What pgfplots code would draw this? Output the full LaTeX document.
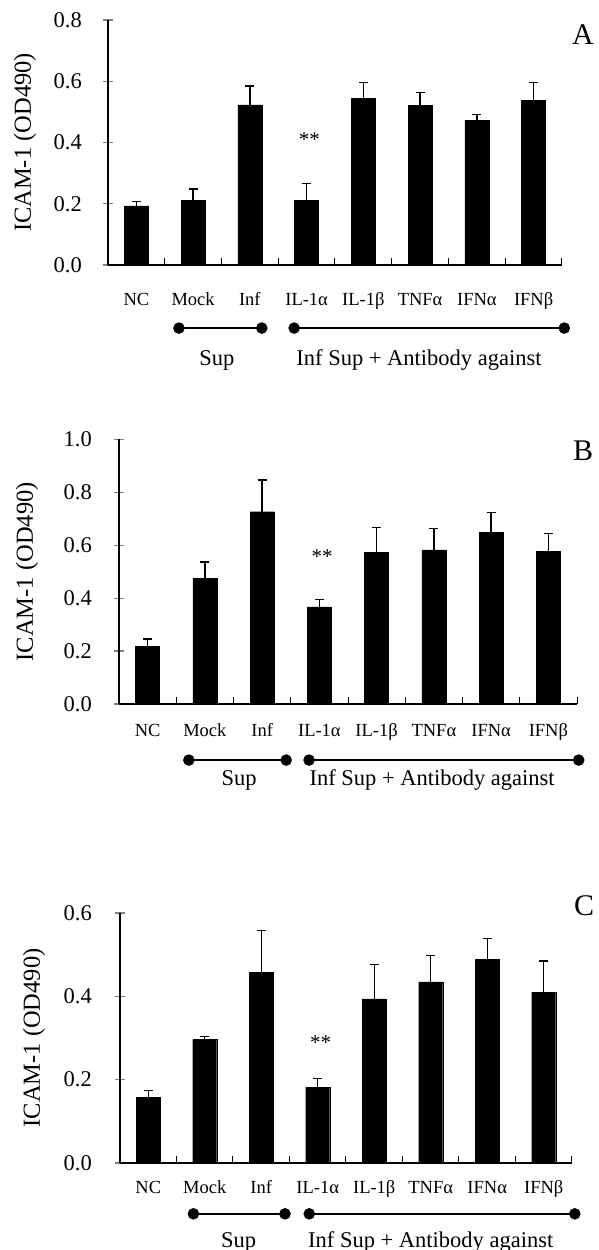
\documentclass[border=0pt]{standalone}
\usepackage{fontspec}
\setmainfont{Liberation Serif}
\usepackage{pgfplots}
\pgfplotsset{compat=1.18}
\pgfplotsset{
  panel/.style={
    scale only axis,
    axis lines*=left,
    axis line style={line width=1.3pt},
    clip=false,
    ymin=0,
    xmin=-0.5, xmax=7.5,
    xtick={0,...,7},
    xticklabels={NC,Mock,Inf,IL-1α,IL-1β,TNFα,IFNα,IFNβ},
    xtick style={draw=none},
    xticklabel style={font=\fontsize{18.5}{20}\selectfont, anchor=base, inner sep=0pt},
    tick align=center,
    major tick length=10pt,
    ytick style={line width=1.2pt},
    /pgf/number format/assume math mode=true,
    yticklabel style={font=\fontsize{22.5}{24}\selectfont, anchor=east, inner sep=0pt,
      /pgf/number format/fixed, /pgf/number format/fixed zerofill, /pgf/number format/precision=1},
    ylabel={ICAM-1 (OD490)},
  },
  bars/.style={ybar, bar width=24pt, fill=black, draw=black,
    error bars/.cd, y dir=plus, y explicit,
    error bar style={line width=1.3pt},
    error mark options={rotate=90, line width=1.3pt, mark size=4.5pt}},
  brk/.style={line width=1.5pt, mark=*, mark size=5pt, mark options={fill=black}},
}
\tikzset{
  txt/.style={font=\fontsize{22.5}{24}\selectfont, anchor=base},
  star/.style={font=\fontsize{21}{22}\selectfont},
  ylab/.style={at={(axis description cs:0,0.5)}, xshift=#1, rotate=90, anchor=center, font=\fontsize{24.5}{26}\selectfont},
}
\newcommand\bticks{%
\pgfplotsinvokeforeach{0.5,1.5,2.5,3.5,4.5,5.5,6.5,7.5}{
  \draw[line width=1pt] (axis cs:##1,0) -- ([yshift=7pt]axis cs:##1,0);
}}
\begin{document}
\begin{tikzpicture}
\useasboundingbox (0pt,0pt) rectangle (598pt,1250pt);

% ---------- Panel A ----------
\begin{axis}[panel, at={(108pt,985pt)}, anchor=south west, width=454pt, height=245pt,
  ymax=0.8, ytick={0,0.2,0.4,0.6,0.8},
  xticklabel style={yshift=-36pt},
  yticklabel style={xshift=-21pt},
  every axis y label/.style={ylab=-83pt}]
\addplot[bars] coordinates {
  (0,0.193) +- (0,0.014)
  (1,0.210) +- (0,0.038)
  (2,0.523) +- (0,0.061)
  (3,0.212) +- (0,0.053)
  (4,0.543) +- (0,0.052)
  (5,0.521) +- (0,0.043)
  (6,0.473) +- (0,0.019)
  (7,0.538) +- (0,0.058)
};
\addplot[brk] coordinates {(0.75,-0.206) (2.21,-0.206)};
\addplot[brk] coordinates {(2.78,-0.206) (7.54,-0.206)};
\bticks
\node[txt] at (axis cs:1.42,-0.327) {Sup};
\node[txt] at (axis cs:4.98,-0.327) {Inf Sup + Antibody against};
\node[star] at (axis cs:3.05,0.408) {**};
\end{axis}

% ---------- Panel B ----------
\begin{axis}[panel, at={(119pt,546pt)}, anchor=south west, width=458pt, height=264.5pt,
  ymax=1.0, ytick={0,0.2,0.4,0.6,0.8,1.0},
  xticklabel style={yshift=-28pt},
  yticklabel style={xshift=-22pt},
  every axis y label/.style={ylab=-92pt}]
\addplot[bars] coordinates {
  (0,0.217) +- (0,0.029)
  (1,0.475) +- (0,0.062)
  (2,0.727) +- (0,0.120)
  (3,0.367) +- (0,0.029)
  (4,0.574) +- (0,0.094)
  (5,0.583) +- (0,0.081)
  (6,0.648) +- (0,0.077)
  (7,0.577) +- (0,0.068)
};
\addplot[brk] coordinates {(0.72,-0.212) (2.42,-0.212)};
\addplot[brk] coordinates {(2.82,-0.212) (7.53,-0.212)};
\bticks
\node[txt] at (axis cs:1.6,-0.31) {Sup};
\node[txt] at (axis cs:4.97,-0.31) {Inf Sup + Antibody against};
\node[star] at (axis cs:3.05,0.556) {**};
\end{axis}

% ---------- Panel C ----------
\begin{axis}[panel, at={(120pt,87pt)}, anchor=south west, width=452pt, height=250pt,
  ymax=0.6, ytick={0,0.2,0.4,0.6},
  xticklabel style={yshift=-25pt},
  yticklabel style={xshift=-23pt},
  every axis y label/.style={ylab=-86pt}]
\addplot[bars] coordinates {
  (0,0.158) +- (0,0.016)
  (1,0.296) +- (0,0.008)
  (2,0.458) +- (0,0.100)
  (3,0.182) +- (0,0.021)
  (4,0.394) +- (0,0.082)
  (5,0.435) +- (0,0.063)
  (6,0.488) +- (0,0.051)
  (7,0.410) +- (0,0.075)
};
\addplot[brk] coordinates {(0.8,-0.122) (2.42,-0.122)};
\addplot[brk] coordinates {(2.85,-0.122) (7.55,-0.122)};
\bticks
\node[txt] at (axis cs:1.6,-0.202) {Sup};
\node[txt] at (axis cs:5.0,-0.202) {Inf Sup + Antibody against};
\node[star] at (axis cs:3.05,0.288) {**};
\end{axis}

\node[font=\fontsize{30}{32}\selectfont] at (583pt,1215pt) {A};
\node[font=\fontsize{30}{32}\selectfont] at (583pt,799pt) {B};
\node[font=\fontsize{30}{32}\selectfont] at (584pt,344pt) {C};
\end{tikzpicture}
\end{document}
